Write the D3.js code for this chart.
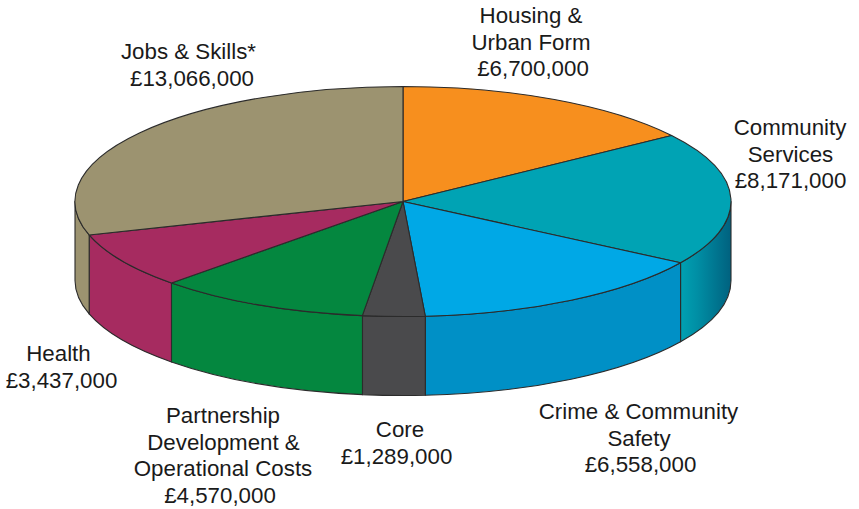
<!DOCTYPE html>
<html>
<head>
<meta charset="utf-8">
<script src="https://cdn.jsdelivr.net/npm/d3@7"></script>
<style>
body { margin: 0; background: #fff; }
text { font-family: "Liberation Sans", sans-serif; font-size: 22.3px; fill: #1a1a1a; }
</style>
</head>
<body>
<div id="chart-area"></div>
<script>
// Budget by theme, clockwise from the top of the pie
var categories = ["Housing & Urban Form", "Community Services", "Crime & Community Safety", "Core",
    "Partnership Development & Operational Costs", "Health", "Jobs & Skills*"];
var values = [6700000, 8171000, 6558000, 1289000, 4570000, 3437000, 13066000];
// size of each slice as drawn, in degrees. read from the picture, not quite proportional to values
var sliceDegrees = [55, 67.2, 53.9, 11, 37.8, 28.2, 106.9];
var labelLines = [
    ["Housing &", "Urban Form"],
    ["Community", "Services"],
    ["Crime & Community", "Safety"],
    ["Core"],
    ["Partnership", "Development &", "Operational Costs"],
    ["Health"],
    ["Jobs & Skills*"]
];
var topColors = ["#f78f1e", "#00a3b4", "#00a8e6", "#4a4a4c", "#04873f", "#a62b60", "#9c9370"];
var sideColors = ["#f78f1e", "url(#communityWall)", "#0090c6", "#4a4a4c", "#04873f", "#a62b60", "#9c9370"];

// centre x of every line of each label, and baseline of its first line
var labelX = [
    [531, 531, 533],
    [790, 790.5, 790.5],
    [638.5, 639, 640.5],
    [400, 396.5],
    [223, 223.5, 223, 220],
    [58.5, 61.5],
    [188.5, 192]
];
var labelY = [23, 135, 419, 437, 423, 361, 59];
var lineHeight = 26.5;

var width = 859, height = 509;
var cx = 403, cy = 201.5, rx = 328, ry = 115, depth = 79;

var svg = d3.select("#chart-area").append("svg")
    .attr("width", width)
    .attr("height", height)
    .style("display", "block");

// the wall is drawn in unit space, so the gradient runs in unit x too
var grad = svg.append("defs").append("linearGradient")
    .attr("id", "communityWall")
    .attr("gradientUnits", "userSpaceOnUse")
    .attr("x1", 0.84).attr("x2", 1).attr("y1", 0).attr("y2", 0);
[[0, "#00a3b4"], [0.35, "#008fa5"], [1, "#00617f"]].forEach(function(s) {
    grad.append("stop").attr("offset", s[0]).attr("stop-color", s[1]);
});

var pie = d3.pie().sort(null).value(function(d) { return d; });
var arcs = pie(sliceDegrees);

// everything in the pie is drawn on a unit circle squashed into an ellipse
var g = svg.append("g")
    .attr("transform", "translate(" + cx + "," + cy + ") scale(" + rx + "," + ry + ")");

var unitArc = d3.arc().innerRadius(0).outerRadius(1);
var d = depth / ry;

// side wall of a slice, only the part facing the viewer
function wallPath(a) {
    var a0 = Math.max(a.startAngle, Math.PI / 2);
    var a1 = Math.min(a.endAngle, Math.PI * 3 / 2);
    if (a1 <= a0) return null;
    var p = d3.path();
    p.moveTo(Math.sin(a0), -Math.cos(a0));
    p.arc(0, 0, 1, a0 - Math.PI / 2, a1 - Math.PI / 2);
    p.arc(0, d, 1, a1 - Math.PI / 2, a0 - Math.PI / 2, true);
    p.closePath();
    return p.toString();
}

g.selectAll(".wall")
    .data(arcs.filter(function(a) { return wallPath(a) !== null; }))
    .enter().append("path")
    .attr("class", "wall")
    .attr("d", wallPath)
    .attr("fill", function(a) { return sideColors[a.index]; })
    .attr("stroke", "#2b2b2b")
    .attr("stroke-width", 1.1)
    .attr("vector-effect", "non-scaling-stroke")
    .attr("stroke-linejoin", "round");

g.selectAll(".slice")
    .data(arcs)
    .enter().append("path")
    .attr("class", "slice")
    .attr("d", unitArc)
    .attr("fill", function(a) { return topColors[a.index]; })
    .attr("stroke", "#2b2b2b")
    .attr("stroke-width", 1.1)
    .attr("vector-effect", "non-scaling-stroke")
    .attr("stroke-linejoin", "round");

var money = d3.format(",");

var labels = svg.selectAll(".label")
    .data(categories)
    .enter().append("text")
    .attr("class", "label")
    .attr("text-anchor", "middle");

labels.each(function(c, i) {
    var lines = labelLines[i].concat(["£" + money(values[i])]);
    d3.select(this).selectAll("tspan")
        .data(lines)
        .enter().append("tspan")
        .attr("x", function(l, j) { return labelX[i][j]; })
        .attr("y", function(l, j) { return labelY[i] + j * lineHeight; })
        .text(function(l) { return l; });
});
</script>
</body>
</html>
